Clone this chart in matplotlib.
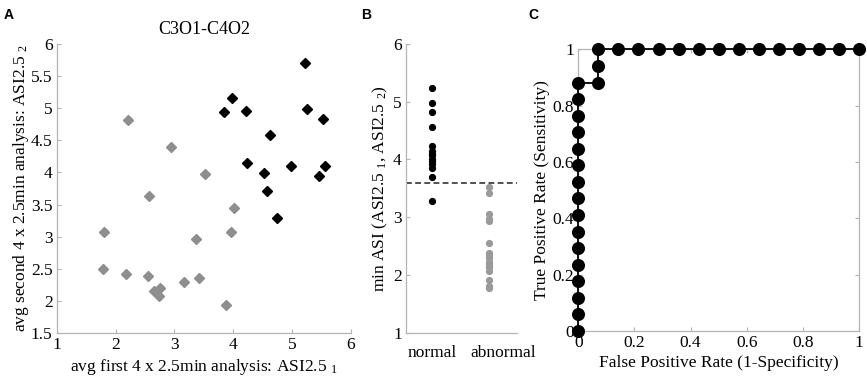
import matplotlib
matplotlib.use("Agg")
import matplotlib.pyplot as plt

plt.rcParams["font.family"] = ["Liberation Serif", "DejaVu Serif"]
plt.rcParams["mathtext.fontset"] = "custom"
plt.rcParams["mathtext.rm"] = "Liberation Serif"
plt.rcParams["mathtext.default"] = "regular"

# panel A: avg ASI of first vs second half
norm_x = [5.22, 3.98, 3.84, 4.22, 5.25, 5.52, 4.62, 4.24, 4.52, 4.98, 5.56, 5.45, 4.58, 4.74]
norm_y = [5.71, 5.16, 4.94, 4.96, 4.99, 4.83, 4.59, 4.15, 3.99, 4.10, 4.10, 3.94, 3.71, 3.29]
abn_x = [2.21, 2.94, 3.52, 2.56, 4.01, 1.80, 3.97, 3.36, 1.79, 2.18, 2.55, 2.75, 2.66, 2.73, 3.16, 3.42, 3.87]
abn_y = [4.82, 4.40, 3.97, 3.64, 3.44, 3.07, 3.07, 2.97, 2.50, 2.42, 2.39, 2.20, 2.16, 2.07, 2.29, 2.35, 1.93]

# panel B: min ASI per group
groups = ["normal", "abnormal"]
min_normal = [5.24, 4.98, 4.82, 4.57, 4.23, 4.14, 4.09, 4.07, 4.00, 3.97, 3.93, 3.86, 3.70, 3.28]
min_abnormal = [3.53, 3.42, 3.05, 2.97, 2.94, 2.56, 2.38, 2.34, 2.29, 2.22, 2.19, 2.16, 2.13, 2.06, 1.92, 1.80, 1.78]
threshold = 3.6

# panel C: ROC
roc_fpr = [0, 0, 0, 0, 0, 0, 0, 0, 0, 0, 0, 0, 0, 0, 0, 0,
           0.071, 0.071, 0.071, 0.143, 0.214, 0.286, 0.357, 0.429, 0.5,
           0.571, 0.643, 0.714, 0.786, 0.857, 0.929, 1.0]
roc_tpr = [0, 0.059, 0.118, 0.176, 0.235, 0.294, 0.353, 0.412, 0.471, 0.529,
           0.588, 0.647, 0.706, 0.765, 0.824, 0.882, 0.882, 0.941, 1, 1, 1,
           1, 1, 1, 1, 1, 1, 1, 1, 1, 1, 1]

GRAY = "#8e8e8e"
SPINE = "#b4b4b4"
FS = 12.5


def style_axes(ax, box=False):
    for side in ["left", "bottom", "top", "right"]:
        ax.spines[side].set_color(SPINE)
        ax.spines[side].set_linewidth(0.9)
    if not box:
        ax.spines["top"].set_visible(False)
        ax.spines["right"].set_visible(False)
    ax.tick_params(direction="in", length=3, width=0.8, color=SPINE,
                   labelsize=FS, pad=3, top=box, right=box)


fig = plt.figure(figsize=(8.67, 3.79), dpi=100)

# ---- A
axA = fig.add_axes([0.0654, 0.1214, 0.3394, 0.7625])
axA.plot(abn_x, abn_y, "D", ms=5.4, color=GRAY, mec=GRAY, clip_on=False)
axA.plot(norm_x, norm_y, "D", ms=5.4, color="black", mec="black", clip_on=False)
axA.set_xlim(1, 6)
axA.set_ylim(1.5, 6)
axA.set_xticks([1, 2, 3, 4, 5, 6])
axA.set_yticks([1.5, 2, 2.5, 3, 3.5, 4, 4.5, 5, 5.5, 6])
axA.set_yticklabels(["1.5", "2", "2.5", "3", "3.5", "4", "4.5", "5", "5.5", "6"])
style_axes(axA)
axA.set_title("C3O1-C4O2", fontsize=FS + 0.5, pad=7)
axA.set_xlabel(r"avg first 4 x 2.5min analysis: ASI2.5 $_{1}$", fontsize=FS, labelpad=3)
axA.set_ylabel(r"avg second 4 x 2.5min analysis: ASI2.5 $_{2}$", fontsize=FS, labelpad=0)

# ---- B
axB = fig.add_axes([0.4683, 0.1222, 0.1277, 0.7617])
axB.plot([1] * len(min_normal), min_normal, "o", ms=4.2, color="black", clip_on=False)
axB.plot([1.8] * len(min_abnormal), min_abnormal, "o", ms=4.2, color="#9a9a9a", clip_on=False)
axB.axhline(threshold, color="#333333", lw=1.2, ls=(0, (3.5, 2)))
axB.set_xlim(0.63, 2.19)
axB.set_ylim(1, 6)
axB.set_yticks([1, 2, 3, 4, 5, 6])
style_axes(axB)
axB.set_xticks([1, 2])
axB.set_xticklabels(groups)
axB.tick_params(axis="x", length=0, pad=9)
axB.set_ylabel(r"min ASI (ASI2.5 $_{1}$, ASI2.5 $_{2}$)", fontsize=FS, labelpad=2)

# ---- C
axC = fig.add_axes([0.667, 0.1266, 0.3238, 0.7433])
axC.plot(roc_fpr, roc_tpr, "-o", color="black", lw=1.3, ms=8.4, clip_on=False, zorder=3)
axC.set_xlim(0, 1)
axC.set_ylim(0, 1)
ticks = [0, 0.2, 0.4, 0.6, 0.8, 1]
tick_lbls = ["0", "0.2", "0.4", "0.6", "0.8", "1"]
axC.set_xticks(ticks)
axC.set_xticklabels(tick_lbls)
axC.set_yticks(ticks)
axC.set_yticklabels(tick_lbls)
style_axes(axC, box=True)
axC.set_xlabel("False Positive Rate (1-Specificity)", fontsize=FS, labelpad=3)
axC.set_ylabel("True Positive Rate (Sensitivity)", fontsize=FS, labelpad=2)

# panel letters
for lbl, x in [("A", 0.004), ("B", 0.416), ("C", 0.609)]:
    fig.text(x, 0.98, lbl, fontsize=10, fontweight="bold",
             family="Liberation Sans", va="top", ha="left")

fig.savefig("out.png", dpi=100)
